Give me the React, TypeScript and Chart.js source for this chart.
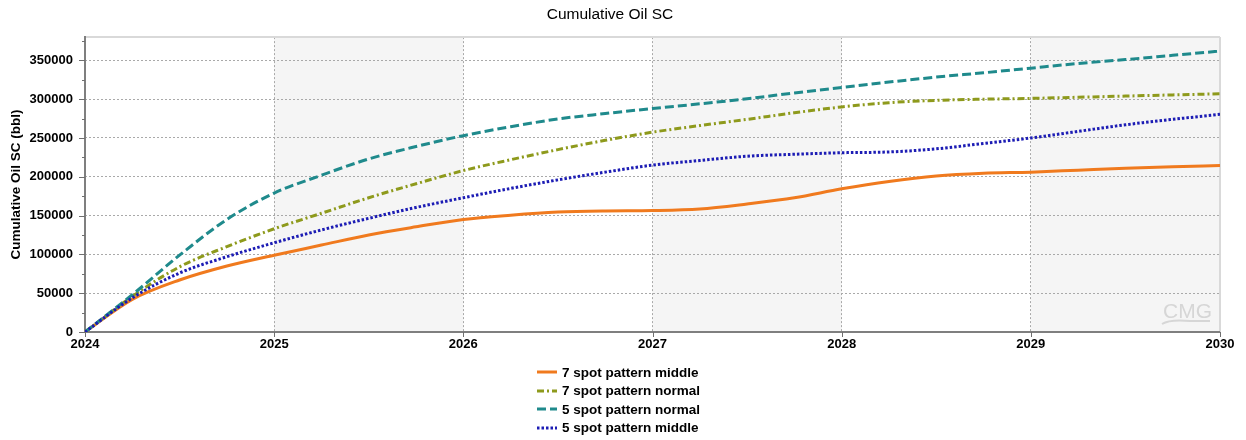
import React, { useEffect, useRef } from 'react';
import { Chart, registerables } from 'chart.js';

Chart.register(...registerables);

// ---- Data ----
const chartTitle = 'Cumulative Oil SC';
const yAxisTitle = 'Cumulative Oil SC (bbl)';

const timeYears = [
  2024, 2024.25, 2024.5, 2024.75,
  2025, 2025.25, 2025.5, 2025.75,
  2026, 2026.25, 2026.5, 2026.75,
  2027, 2027.25, 2027.5, 2027.75,
  2028, 2028.25, 2028.5, 2028.75,
  2029, 2029.25, 2029.5, 2029.75,
  2030,
];

const sevenSpotMiddle = [
  0, 42000, 67000, 85000,
  99000, 112000, 125000, 135500,
  145000, 150500, 154500, 156000,
  156500, 158500, 165000, 173000,
  184500, 194000, 201000, 204500,
  206000, 208500, 211000, 213000,
  214500,
];

const sevenSpotNormal = [
  0, 46000, 84000, 110000,
  133000, 153000, 173000, 191000,
  208000, 222000, 235000, 247000,
  257500, 266000, 274000, 282500,
  290000, 295500, 298500, 300000,
  301000, 302500, 304000, 305500,
  307000,
];

const fiveSpotNormal = [
  0, 48000, 99000, 145000,
  179000, 202000, 223000, 239000,
  253000, 264500, 274500, 281500,
  288000, 294000, 300500, 308000,
  315000, 322000, 328500, 334000,
  340000, 346000, 351000, 356500,
  362000,
];

const fiveSpotMiddle = [
  0, 44000, 76000, 97000,
  115000, 131500, 146500, 160500,
  173000, 185000, 196000, 206000,
  215000, 221000, 226500, 229000,
  231000, 232000, 236000, 243000,
  250000, 258500, 267000, 274000,
  280500,
];

const seriesNames = [
  '7 spot pattern middle',
  '7 spot pattern normal',
  '5 spot pattern normal',
  '5 spot pattern middle',
];
const seriesValues = [sevenSpotMiddle, sevenSpotNormal, fiveSpotNormal, fiveSpotMiddle];
const seriesColors = ['#f07a1e', '#8e9a1c', '#1f8a8c', '#1c1cb4'];
const seriesDash: number[][] = [[], [7, 3, 2, 3], [9, 4], [2.5, 2]];
const seriesOrder = [3, 2, 1, 0];

const xTickValues = [2024, 2025, 2026, 2027, 2028, 2029, 2030];
const yTickValues = [0, 50000, 100000, 150000, 200000, 250000, 300000, 350000];
const yMinorTickValues = [25000, 75000, 125000, 175000, 225000, 275000, 325000, 375000];

const xMin = 2024;
const xMax = 2030;
const yMin = 0;
const yMax = 380000;

const FONT = "'Liberation Sans', Arial, Helvetica, sans-serif";

// ---- Plugins ----
const bandsPlugin = {
  id: 'bands',
  beforeDraw(chart: any) {
    const { ctx, chartArea, scales } = chart;
    const xs = scales.x;
    ctx.save();
    ctx.fillStyle = '#ffffff';
    ctx.fillRect(chartArea.left, chartArea.top, chartArea.right - chartArea.left, chartArea.bottom - chartArea.top);
    ctx.fillStyle = '#f5f5f5';
    for (let i = 0; i < xTickValues.length - 1; i++) {
      if (i % 2 === 1) {
        const a = xs.getPixelForValue(xTickValues[i]);
        const b = xs.getPixelForValue(xTickValues[i + 1]);
        ctx.fillRect(a, chartArea.top, b - a, chartArea.bottom - chartArea.top);
      }
    }
    ctx.restore();
  },
};

const framePlugin = {
  id: 'frame',
  beforeDatasetsDraw(chart: any) {
    const { ctx, chartArea, scales } = chart;
    const { left, right, top, bottom } = chartArea;
    const ys = scales.y;
    const xs = scales.x;
    ctx.save();

    // watermark
    ctx.fillStyle = '#d6d6d6';
    ctx.font = `21px ${FONT}`;
    ctx.textAlign = 'right';
    ctx.textBaseline = 'alphabetic';
    ctx.fillText('CMG', right - 8, bottom - 14);
    ctx.strokeStyle = '#d6d6d6';
    ctx.lineWidth = 2;
    ctx.beginPath();
    ctx.moveTo(right - 58, bottom - 8);
    ctx.quadraticCurveTo(right - 50, bottom - 13, right - 30, bottom - 11);
    ctx.lineTo(right - 10, bottom - 11);
    ctx.stroke();

    // light top/right border
    ctx.strokeStyle = '#d9d9d9';
    ctx.lineWidth = 2;
    ctx.beginPath();
    ctx.moveTo(left, top);
    ctx.lineTo(right, top);
    ctx.moveTo(right, top);
    ctx.lineTo(right, bottom);
    ctx.stroke();

    // dark left/bottom axes
    ctx.strokeStyle = '#7f7f7f';
    ctx.lineWidth = 2;
    ctx.beginPath();
    ctx.moveTo(left, top - 1);
    ctx.lineTo(left, bottom);
    ctx.lineTo(right, bottom);
    ctx.stroke();

    // y major + minor ticks, x ticks
    ctx.lineWidth = 1;
    ctx.strokeStyle = '#6f6f6f';
    ctx.beginPath();
    yTickValues.forEach((v) => {
      const p = Math.round(ys.getPixelForValue(v)) + 0.5;
      ctx.moveTo(left - 6, p);
      ctx.lineTo(left, p);
    });
    yMinorTickValues.forEach((v) => {
      const p = Math.round(ys.getPixelForValue(v)) + 0.5;
      ctx.moveTo(left - 3, p);
      ctx.lineTo(left, p);
    });
    xTickValues.forEach((v) => {
      const p = Math.round(xs.getPixelForValue(v)) + 0.5;
      ctx.moveTo(p, bottom);
      ctx.lineTo(p, bottom + 5);
    });
    ctx.stroke();
    ctx.restore();
  },
};

export default function App() {
  const canvasRef = useRef<HTMLCanvasElement | null>(null);

  useEffect(() => {
    const canvas = canvasRef.current;
    if (!canvas) return;
    const datasets = seriesNames.map((name, i) => ({
      label: name,
      data: timeYears.map((x, j) => ({ x, y: seriesValues[i][j] })),
      borderColor: seriesColors[i],
      backgroundColor: seriesColors[i],
      borderWidth: 3,
      borderDash: seriesDash[i],
      borderCapStyle: 'butt',
      pointRadius: 0,
      pointHoverRadius: 0,
      fill: false,
      cubicInterpolationMode: 'monotone',
      order: seriesOrder[i],
    }));

    const chart = new Chart(canvas, {
      type: 'line',
      data: { datasets } as any,
      plugins: [bandsPlugin, framePlugin],
      options: {
        animation: false,
        responsive: false,
        maintainAspectRatio: false,
        devicePixelRatio: 1,
        events: [],
        layout: { padding: { left: 0, right: 26, top: 0, bottom: 78 } },
        plugins: {
          legend: { display: false },
          tooltip: { enabled: false },
          title: {
            display: true,
            text: chartTitle,
            color: '#000000',
            font: { family: FONT, size: 15.5, weight: 'normal' },
            padding: { top: 5.5, bottom: 13 },
          },
        },
        scales: {
          x: {
            type: 'linear',
            min: xMin,
            max: xMax,
            afterFit: (s: any) => { s.height = 30; },
            afterBuildTicks: (s: any) => { s.ticks = xTickValues.map((v) => ({ value: v })); },
            ticks: {
              padding: 5,
              color: '#000000',
              font: { family: FONT, size: 13, weight: 'bold' },
              maxRotation: 0,
              autoSkip: false,
              callback: (v: any) => String(v),
            },
            grid: { color: '#a9a9a9', lineWidth: 1, drawTicks: false },
            border: { display: false, dash: [2, 2] },
          },
          y: {
            type: 'linear',
            min: yMin,
            max: yMax,
            afterFit: (s: any) => { s.width = 85; },
            afterBuildTicks: (s: any) => { s.ticks = yTickValues.map((v) => ({ value: v })); },
            ticks: {
              padding: 12,
              color: '#000000',
              autoSkip: false,
              font: { family: FONT, size: 13, weight: 'bold' },
              callback: (v: any) => String(v),
            },
            grid: { color: '#a9a9a9', lineWidth: 1, drawTicks: false },
            border: { display: false, dash: [2, 2] },
            title: {
              display: true,
              text: yAxisTitle,
              color: '#000000',
              font: { family: FONT, size: 13.5, weight: 'bold' },
              padding: { top: 8, bottom: 0 },
            },
          },
        },
      } as any,
    });
    return () => chart.destroy();
  }, []);

  return (
    <div style={{ position: 'absolute', left: 0, top: 0, width: 1246, height: 440, background: '#ffffff' }}>
      <canvas ref={canvasRef} width={1246} height={440} style={{ display: 'block', width: 1246, height: 440 }} />
      <div
        style={{
          position: 'absolute',
          left: 537,
          top: 363,
          font: `bold 13.5px ${FONT}`,
          color: '#000000',
        }}
      >
        {seriesNames.map((name, i) => (
          <div key={name} style={{ display: 'flex', alignItems: 'center', height: 18.5, whiteSpace: 'nowrap' }}>
            <svg width={20} height={6} style={{ display: 'block' }}>
              <line
                x1={0}
                y1={3}
                x2={20}
                y2={3}
                stroke={seriesColors[i]}
                strokeWidth={3}
                strokeDasharray={seriesDash[i].length ? seriesDash[i].join(' ') : undefined}
              />
            </svg>
            <span style={{ marginLeft: 5 }}>{name}</span>
          </div>
        ))}
      </div>
    </div>
  );
}
